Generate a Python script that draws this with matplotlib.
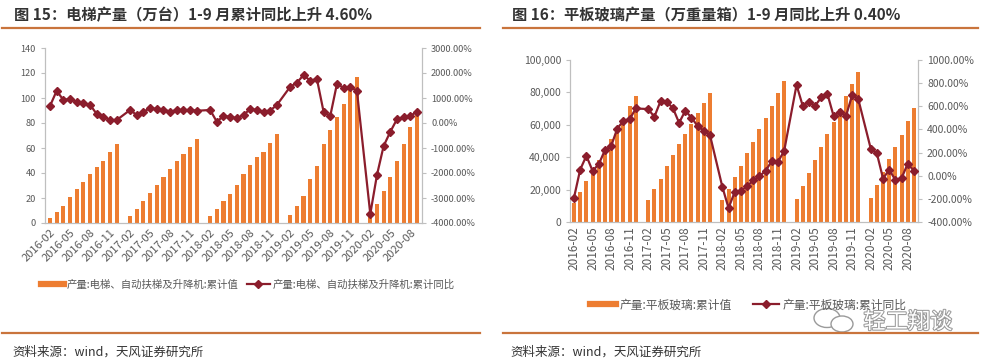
import numpy as np
import pandas as pd
import matplotlib
matplotlib.use("Agg")
import matplotlib.pyplot as plt
from matplotlib.ticker import FuncFormatter
from matplotlib.lines import Line2D
from matplotlib.patches import Ellipse
import matplotlib.patheffects as pe

plt.rcParams['font.family'] = ['Noto Sans CJK SC', 'DejaVu Sans']

# month categories 2016-02 .. 2020-09 (January has no data)
months = pd.period_range('2016-02', '2020-09', freq='M').strftime('%Y-%m').tolist()

# elevator output, cumulative (万台), Feb-Dec per year
elev_2016 = [4, 8.5, 13.6, 21, 27.2, 32.8, 39, 44.5, 49.9, 56.8, 62.9]
elev_2017 = [5.9, 11, 17.3, 24.3, 30.4, 36.8, 43, 50, 55, 61, 67]
elev_2018 = [5.6, 11, 17.3, 23.5, 30.4, 39, 46.2, 53, 57, 64, 71.5]
elev_2019 = [6.4, 13.6, 21.5, 35.5, 46, 63, 74.5, 85, 95, 107, 116.5]
elev_2020 = [4.5, 15, 26, 37, 50, 63, 76.5, 88]
# elevator cumulative yoy (%)
elev_yoy_2016 = [680, 1290, 920, 960, 840, 790, 730, 360, 250, 120, 120]
elev_yoy_2017 = [520, 320, 450, 590, 560, 540, 450, 520, 520, 520, 490]
elev_yoy_2018 = [520, 50, 280, 250, 190, 320, 560, 520, 450, 500, 720]
elev_yoy_2019 = [1450, 1610, 1920, 1690, 1760, 450, 280, 1560, 1410, 1450, 1280]
elev_yoy_2020 = [-3640, -2080, -920, -350, 150, 230, 280, 460]

# flat glass output, cumulative (万重量箱)
glass_2016 = [11800, 18600, 25200, 31800, 38200, 44000, 51500, 57000, 63500, 71500, 77700]
glass_2017 = [13400, 20200, 26800, 34400, 41600, 48000, 54600, 60800, 67400, 73200, 79400]
glass_2018 = [13400, 20200, 27800, 34500, 42700, 49500, 57100, 64500, 71800, 79400, 87000]
glass_2019 = [14400, 22300, 30300, 38100, 46400, 54200, 61900, 69700, 77700, 85200, 92600]
glass_2020 = [15000, 23100, 30900, 38600, 46400, 54000, 62500, 70100]
# flat glass cumulative yoy (%)
glass_yoy_2016 = [-189, 53, 172, 42, 99, 221, 255, 408, 475, 489, 581]
glass_yoy_2017 = [576, 509, 645, 639, 584, 457, 561, 503, 428, 388, 350]
glass_yoy_2018 = [-97, -279, -140, -130, -91, -39, -4, 42, 128, 120, 215]
glass_yoy_2019 = [784, 604, 639, 604, 677, 706, 515, 553, 515, 697, 659]
glass_yoy_2020 = [235, 192, -25, 53, -39, -19, 105, 40]

bar_label1 = '产量:电梯、自动扶梯及升降机:累计值'
line_label1 = '产量:电梯、自动扶梯及升降机:累计同比'
bar_label2 = '产量:平板玻璃:累计值'
line_label2 = '产量:平板玻璃:累计同比'
title1 = '图 15：电梯产量（万台）1-9 月累计同比上升 4.60%'
title2 = '图 16：平板玻璃产量（万重量箱）1-9 月同比上升 0.40%'
source = '资料来源：wind，天风证券研究所'

ORANGE = '#ED7D31'
DARKRED = '#8B1D2C'
RULE = '#C9743C'
GRAY = '#595959'
SPINE = '#BFBFBF'


def join_years(*years):
    out = []
    for i, y in enumerate(years):
        if i > 0:
            out.append(np.nan)  # January
        out.extend(y)
    return np.array(out, dtype=float)


def draw_panel(ax, bars, yoy, bar_w, ylim, ylim2, lfmt, rot, xlim, ysize, xsize):
    x = np.arange(len(months))
    ax.bar(x, bars, width=bar_w, color=ORANGE, zorder=2)
    ax2 = ax.twinx()
    ok = ~np.isnan(yoy)
    ax2.plot(x[ok], yoy[ok], color=DARKRED, lw=1.6, marker='D', ms=4.2, zorder=3)
    ax.set_xlim(*xlim)
    ax.set_ylim(*ylim)
    ax2.set_ylim(*ylim2)
    ax.set_xticks(x[::3])
    if rot == 45:
        ax.set_xticklabels(months[::3], rotation=45, ha='right', rotation_mode='anchor')
    else:
        ax.set_xticklabels(months[::3], rotation=90, ha='center')
    ax.yaxis.set_major_formatter(FuncFormatter(lfmt))
    ax2.yaxis.set_major_formatter(FuncFormatter(lambda v, p: '%.2f%%' % v))
    for a in (ax, ax2):
        for s in a.spines.values():
            s.set_color(SPINE)
        a.spines['top'].set_visible(False)
        a.tick_params(axis='y', labelsize=ysize, colors=SPINE, labelcolor=GRAY, length=3, width=0.8)
    ax.tick_params(axis='x', labelsize=xsize, colors=GRAY, length=0, pad=3)
    ax2.set_zorder(ax.get_zorder() + 1)
    return ax2


fig = plt.figure(figsize=(9.88, 3.63), dpi=100)
W, H = 988.0, 363.0

# left panel
ax1 = fig.add_axes([45 / W, 1 - 223 / H, (422 - 45) / W, (223 - 48) / H])
draw_panel(ax1, join_years(elev_2016, elev_2017, elev_2018, elev_2019, elev_2020),
           join_years(elev_yoy_2016, elev_yoy_2017, elev_yoy_2018, elev_yoy_2019, elev_yoy_2020),
           0.62, (0, 140), (-4000, 3000), lambda v, p: '%d' % v, 45, (-0.75, 55.75), 6.6, 8)
ax1.set_yticks(range(0, 141, 20))

# right panel
ax3 = fig.add_axes([570 / W, 1 - 222 / H, (918 - 570) / W, (222 - 60) / H])
draw_panel(ax3, join_years(glass_2016, glass_2017, glass_2018, glass_2019, glass_2020),
           join_years(glass_yoy_2016, glass_yoy_2017, glass_yoy_2018, glass_yoy_2019, glass_yoy_2020),
           0.65, (0, 100000), (-400, 1000), lambda v, p: '{:,.0f}'.format(v), 90, (-0.65, 55.65), 7.5, 8.5)

# legends
h_bar = Line2D([], [], color=ORANGE, lw=4.5)
h_line = Line2D([], [], color=DARKRED, lw=1.6, marker='D', ms=4)
for lab_b, lab_l, cx, cy, fs, cs in [(bar_label1, line_label1, 248, 285, 7.5, 0.8),
                                     (bar_label2, line_label2, 748, 305, 8.5, 1.8)]:
    fig.legend([h_bar, h_line], [lab_b, lab_l], loc='center', bbox_to_anchor=(cx / W, 1 - cy / H),
               ncol=2, frameon=False, fontsize=fs, handlelength=2.2, handletextpad=0.3,
               columnspacing=cs, labelcolor=GRAY)

# titles, rules and source notes
for tx, title, x0, x1 in [(14, title1, 2, 480), (512, title2, 503, 978)]:
    fig.text(tx / W, 1 - 15 / H, title, fontsize=11, fontweight='bold', color='#333333', va='center')
    fig.add_artist(Line2D([x0 / W, x1 / W], [1 - 28 / H, 1 - 28 / H], color=RULE, lw=1.6,
                          transform=fig.transFigure))
    fig.add_artist(Line2D([x0 / W, x1 / W], [1 - 333 / H, 1 - 333 / H], color=RULE, lw=1.6,
                          transform=fig.transFigure))
    fig.text((tx - 2) / W, 1 - 352 / H, source, fontsize=9, color='#333333', va='center')

# watermark
fig.add_artist(Ellipse((827 / W, 1 - 318 / H), 26 / W, 19 / H, transform=fig.transFigure,
                       facecolor='white', edgecolor='#9a9a9a', lw=1.0))
fig.add_artist(Ellipse((842 / W, 1 - 324 / H), 22 / W, 16 / H, transform=fig.transFigure,
                       facecolor='white', edgecolor='#9a9a9a', lw=1.0))
fig.text(908 / W, 1 - 322 / H, '轻工翔谈', fontsize=16, color='white', va='center', ha='center',
         path_effects=[pe.withStroke(linewidth=1.5, foreground='#9a9a9a')])

fig.savefig('out.png', dpi=100)
